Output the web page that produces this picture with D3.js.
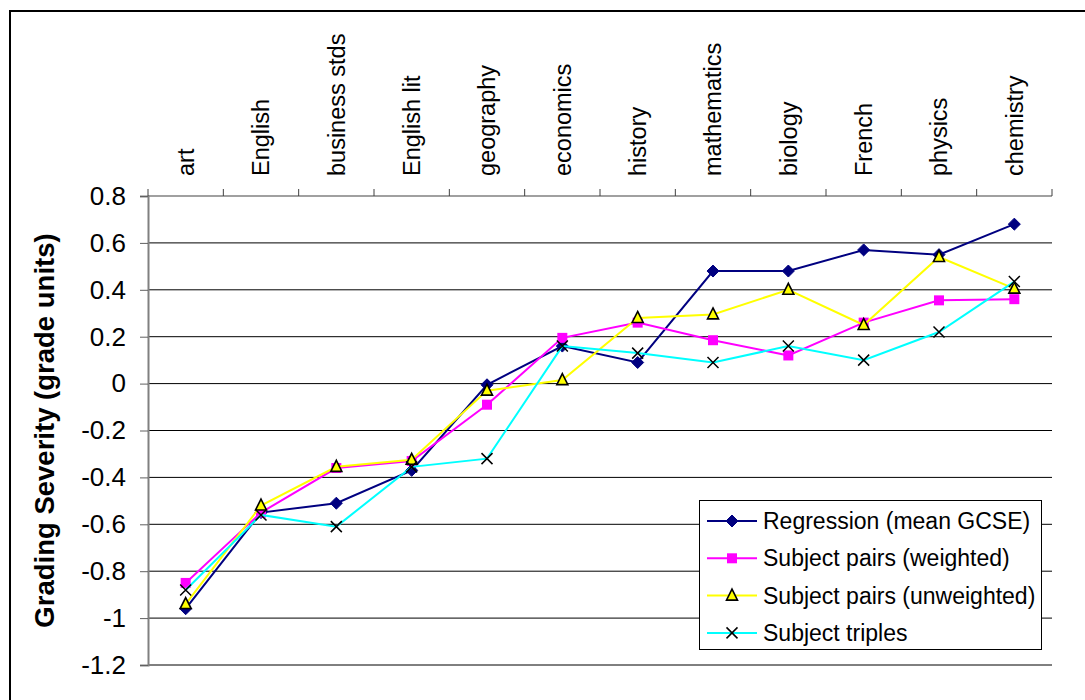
<!DOCTYPE html>
<html>
<head>
<meta charset="utf-8">
<script src="https://cdn.jsdelivr.net/npm/d3@7/dist/d3.min.js"></script>
<style>
  html, body { margin: 0; padding: 0; background: #fff; }
  svg { display: block; font-family: "Liberation Sans", Arial, sans-serif; }
</style>
</head>
<body>
<svg id="chart" width="1085" height="700"></svg>
<script>
// Subjects, ordered from most lenient to most severe
const subjects = ["art", "English", "business stds", "English lit", "geography", "economics",
                  "history", "mathematics", "biology", "French", "physics", "chemistry"];

// Grading severity estimates (grade units) for each method
const regression      = [-0.96, -0.55, -0.51, -0.37, -0.005, 0.16, 0.09, 0.48, 0.48, 0.57, 0.55, 0.68];
const pairsWeighted   = [-0.85, -0.55, -0.36, -0.33, -0.09, 0.195, 0.26, 0.185, 0.12, 0.26, 0.355, 0.36];
const pairsUnweighted = [-0.94, -0.52, -0.355, -0.325, -0.03, 0.015, 0.28, 0.295, 0.40, 0.25, 0.54, 0.405];
const triples         = [-0.88, -0.56, -0.61, -0.355, -0.32, 0.16, 0.13, 0.09, 0.16, 0.10, 0.22, 0.435];

const seriesNames = ["Regression (mean GCSE)", "Subject pairs (weighted)",
                     "Subject pairs (unweighted)", "Subject triples"];
const yTicks = [-1.2, -1, -0.8, -0.6, -0.4, -0.2, 0, 0.2, 0.4, 0.6, 0.8];
const yTickLabels = ["-1.2", "-1", "-0.8", "-0.6", "-0.4", "-0.2", "0", "0.2", "0.4", "0.6", "0.8"];

const series = [
  { name: seriesNames[0], values: regression,      line: "#000080", marker: "diamond" },
  { name: seriesNames[1], values: pairsWeighted,   line: "#FF00FF", marker: "square" },
  { name: seriesNames[2], values: pairsUnweighted, line: "#FFFF00", marker: "triangle" },
  { name: seriesNames[3], values: triples,         line: "#00FFFF", marker: "cross" }
];

const svg = d3.select("#chart");
const plot = { left: 148, right: 1052, top: 196, bottom: 665 };

// Chart frame
svg.append("rect")
  .attr("x", 10).attr("y", 11).attr("width", 1200).attr("height", 800)
  .attr("fill", "#fff").attr("stroke", "#000").attr("stroke-width", 2);

const x = d3.scaleBand().domain(subjects).range([plot.left, plot.right]).padding(0);
const y = d3.scaleLinear().domain([-1.2, 0.8]).range([plot.bottom, plot.top]);
const cx = d => x(d) + x.bandwidth() / 2;

// Horizontal gridlines
svg.append("g").selectAll("line")
  .data(yTicks.filter(t => t < 0.8))
  .join("line")
  .attr("x1", plot.left).attr("x2", plot.right)
  .attr("y1", d => y(d)).attr("y2", d => y(d))
  .attr("stroke", "#000").attr("stroke-width", 1);

// Value axis on the left
const yAxis = svg.append("g")
  .attr("transform", `translate(${plot.left},0)`)
  .call(d3.axisLeft(y).tickValues(yTicks).tickSize(8).tickPadding(14)
        .tickFormat((d, i) => yTickLabels[i]));
yAxis.select(".domain").attr("stroke", "#808080").attr("stroke-width", 2);
yAxis.selectAll(".tick line").attr("stroke", "#606060").attr("stroke-width", 1);
yAxis.selectAll(".tick text")
  .attr("fill", "#000").attr("font-size", 26)
  .attr("font-family", "Liberation Sans, Arial, sans-serif");

// Category axis along the top, ticks at category boundaries
const boundaries = subjects.map(s => x(s)).concat([plot.right]);
svg.append("line")
  .attr("x1", plot.left).attr("x2", plot.right)
  .attr("y1", plot.top).attr("y2", plot.top)
  .attr("stroke", "#808080").attr("stroke-width", 1.5);
svg.append("g").selectAll("line")
  .data(boundaries)
  .join("line")
  .attr("x1", d => d).attr("x2", d => d)
  .attr("y1", plot.top).attr("y2", plot.top - 7)
  .attr("stroke", "#404040").attr("stroke-width", 1);

svg.append("g").selectAll("text")
  .data(subjects)
  .join("text")
  .attr("transform", d => `translate(${cx(d)},${plot.top - 20}) rotate(-90)`)
  .attr("text-anchor", "start")
  .attr("dy", "0.35em")
  .attr("font-size", 23.5)
  .attr("fill", "#000")
  .text(d => d);

// Value axis title
svg.append("text")
  .attr("transform", `translate(44,${(plot.top + plot.bottom) / 2}) rotate(-90)`)
  .attr("text-anchor", "middle")
  .attr("dy", "0.35em")
  .attr("font-size", 27.5)
  .attr("font-weight", "bold")
  .attr("fill", "#000")
  .text("Grading Severity (grade units)");

// Marker shapes
function drawMarker(g, type, px, py) {
  if (type === "diamond") {
    g.append("path")
      .attr("d", `M${px},${py - 6}L${px + 6},${py}L${px},${py + 6}L${px - 6},${py}Z`)
      .attr("fill", "#000080").attr("stroke", "#000080").attr("stroke-width", 1);
  } else if (type === "square") {
    g.append("rect")
      .attr("x", px - 5).attr("y", py - 5).attr("width", 10).attr("height", 10)
      .attr("fill", "#FF00FF");
  } else if (type === "triangle") {
    g.append("path")
      .attr("d", `M${px},${py - 6.5}L${px + 5.5},${py + 4.5}L${px - 5.5},${py + 4.5}Z`)
      .attr("fill", "#FFFF00").attr("stroke", "#000").attr("stroke-width", 1.6)
      .attr("stroke-linejoin", "miter");
  } else if (type === "cross") {
    g.append("path")
      .attr("d", `M${px - 5.5},${py - 5.5}L${px + 5.5},${py + 5.5}M${px + 5.5},${py - 5.5}L${px - 5.5},${py + 5.5}`)
      .attr("stroke", "#000").attr("stroke-width", 1.5).attr("fill", "none");
  }
}

const line = d3.line().x((d, i) => cx(subjects[i])).y(d => y(d));

series.forEach(s => {
  const g = svg.append("g");
  g.append("path")
    .attr("d", line(s.values))
    .attr("fill", "none")
    .attr("stroke", s.line)
    .attr("stroke-width", 2);
  s.values.forEach((v, i) => drawMarker(g, s.marker, cx(subjects[i]), y(v)));
});

// Legend
const legend = svg.append("g");
legend.append("rect")
  .attr("x", 699.5).attr("y", 500.5).attr("width", 342).attr("height", 149)
  .attr("fill", "#fff").attr("stroke", "#000").attr("stroke-width", 1);
series.forEach((s, i) => {
  const ly = 521 + i * 37.3;
  const g = legend.append("g");
  g.append("line")
    .attr("x1", 707).attr("x2", 757).attr("y1", ly).attr("y2", ly)
    .attr("stroke", s.line).attr("stroke-width", 2);
  drawMarker(g, s.marker, 732, ly);
  g.append("text")
    .attr("x", 763).attr("y", ly).attr("dy", "0.35em")
    .attr("font-size", 23).attr("fill", "#000")
    .text(s.name);
});
</script>
</body>
</html>
